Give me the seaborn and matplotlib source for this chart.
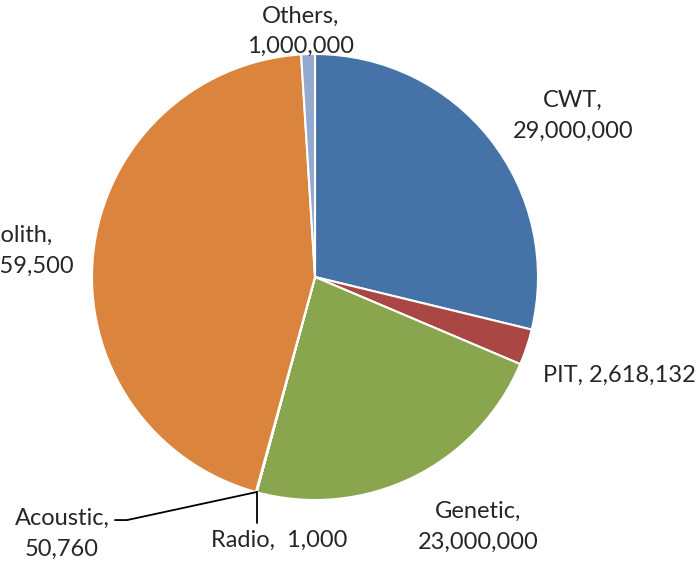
import seaborn as sns
import matplotlib.pyplot as plt

labels = ["CWT", "PIT", "Genetic", "Radio", "Acoustic", "Otolith", "Others"]
values = [29000000, 2618132, 23000000, 1000, 50760, 45059500, 1000000]
colors = ["#4572A7", "#AA4643", "#89A54E", "#71588F", "#4198AF", "#DB843D", "#93A9CF"]

sns.set_style("white")
plt.rcParams["font.family"] = ["Lato", "DejaVu Sans"]

fig = plt.figure(figsize=(6.96, 5.65), dpi=100)
ax = fig.add_axes([0, 0, 1, 1])
ax.pie(values, colors=colors, startangle=90, counterclock=False, radius=1,
       wedgeprops=dict(edgecolor="white", linewidth=1.5))
ax.set_xlim(-1.4126, 1.7085)
ax.set_ylim(-1.2915, 1.2422)
ax.set_aspect("equal")
ax.axis("off")

fs = 17
ls = 1.55
ax.text(1.157, 0.722, "CWT,\n29,000,000", ha="center", va="center", fontsize=fs, linespacing=ls)
ax.text(1.022, -0.439, "PIT, 2,618,132", ha="left", va="center", fontsize=fs)
ax.text(0.731, -1.121, "Genetic,\n23,000,000", ha="center", va="center", fontsize=fs, linespacing=ls)
ax.text(-0.161, -1.179, "Radio,  1,000", ha="center", va="center", fontsize=fs)
ax.text(-1.135, -1.152, "Acoustic,\n50,760", ha="center", va="center", fontsize=fs, linespacing=ls)
ax.text(-1.350, 0.117, "Otolith,\n45,059,500", ha="center", va="center", fontsize=fs, linespacing=ls)
ax.text(-0.063, 1.103, "Others,\n1,000,000", ha="center", va="center", fontsize=fs, linespacing=ls)

# leader lines for the tiny slices
ax.plot([-0.260, -0.260], [-0.964, -1.103], color="black", lw=1.3)
ax.plot([-0.897, -0.843, -0.260], [-1.090, -1.090, -0.964], color="black", lw=1.3)

fig.savefig("out.png", dpi=100)
